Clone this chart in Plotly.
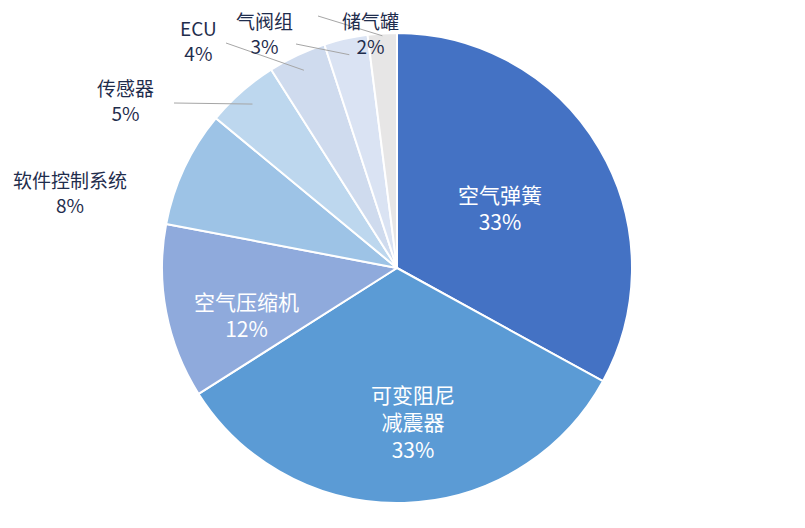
import math
import plotly.graph_objects as go

labels = ["空气弹簧", "可变阻尼<br>减震器", "空气压缩机", "软件控制系统", "传感器", "ECU", "气阀组", "储气罐"]
values = [33, 33, 12, 8, 5, 4, 3, 2]
colors = ["#4472C4", "#5B9BD5", "#8FAADC", "#9DC3E6", "#BDD7EE", "#CFDBEE", "#DAE3F3", "#E7E6E6"]

W, H = 805, 528
cx, cy, R = 397, 268, 235
off = 8  # renderer offset correction
label_pos = [(500, 207), (413, 421), (246, 314), (70, 192), (125, 100), (198, 40), (264, 33), (370, 33)]
leader_start = [None, None, None, None, (174, 103), (226, 43), (296, 44), (318, 16)]
leader_r = [0, 0, 0, 0, 0.93, 0.93, 0.93, 0.99]

def px(x): return (x - off) / W
def py(y): return 1 - (y - off) / H

fig = go.Figure(go.Pie(
    labels=labels, values=values, sort=False, direction="clockwise", rotation=0,
    marker=dict(colors=colors, line=dict(color="white", width=2)),
    textinfo="none",
    domain=dict(x=[px(cx - R), px(cx + R)], y=[py(cy + R), py(cy - R)]),
    showlegend=False, hoverinfo="skip",
))

total = sum(values)
cum = 0
for i, (lab, v) in enumerate(zip(labels, values)):
    mid = (cum + v / 2) / total * 2 * math.pi
    cum += v
    inside = i < 3
    x, y = label_pos[i]
    fig.add_annotation(x=px(x), y=py(y), xref="paper", yref="paper", showarrow=False,
                       xanchor="center", yanchor="middle",
                       text=f"{lab}<br>{v}%", align="center",
                       font=dict(size=21 if inside else 19, color="white" if inside else "#1F2D4D",
                                 family="Noto Sans CJK SC"))
    if leader_start[i]:
        ex = cx + leader_r[i] * R * math.sin(mid)
        ey = cy - leader_r[i] * R * math.cos(mid)
        sx, sy = leader_start[i]
        fig.add_shape(type="line", xref="paper", yref="paper",
                      x0=px(sx), y0=py(sy), x1=px(ex), y1=py(ey),
                      line=dict(color="#A6A6A6", width=1))

fig.update_layout(width=W, height=H, margin=dict(l=0, r=0, t=0, b=0),
                  paper_bgcolor="white", font=dict(family="Noto Sans CJK SC"))
fig.write_html("out.html")
